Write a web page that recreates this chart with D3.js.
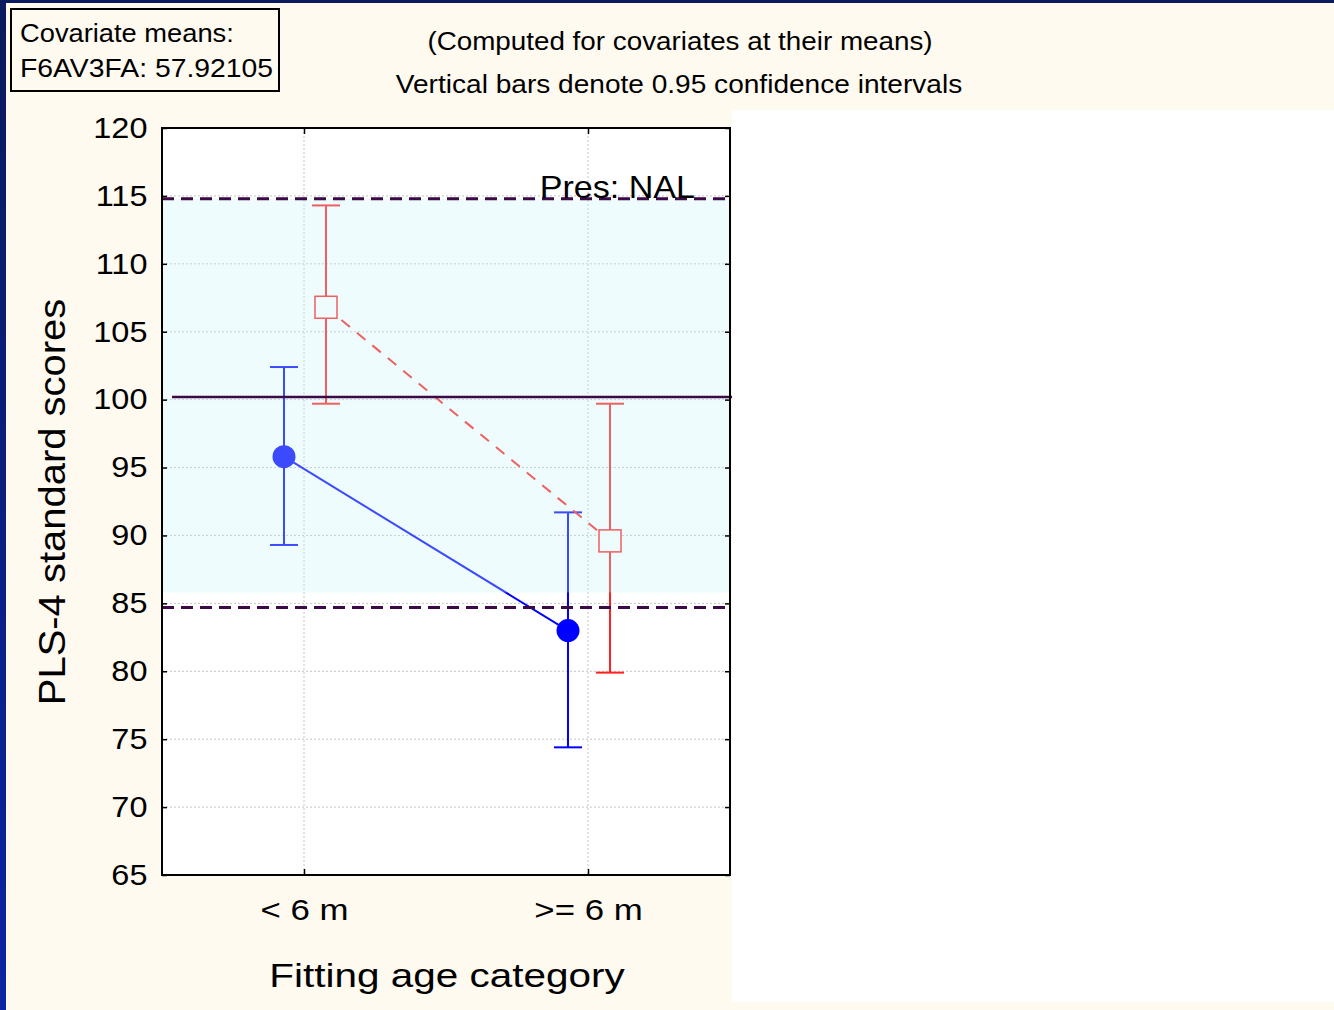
<!DOCTYPE html>
<html>
<head>
<meta charset="utf-8">
<script src="https://cdn.jsdelivr.net/npm/d3@7"></script>
<style>
  body { margin: 0; background: #fffaf0; }
  svg { display: block; font-family: "Liberation Sans", Arial, sans-serif; }
</style>
</head>
<body>
<div id="chart"></div>
<script>
// Data
var categories = ["< 6 m", ">= 6 m"];
var yTicks = [65, 70, 75, 80, 85, 90, 95, 100, 105, 110, 115, 120];

// Series 1: filled circles, solid blue line
var blueMeans = [95.8, 83.0];
var blueLower = [89.3, 74.4];
var blueUpper = [102.4, 91.7];

// Series 2: open squares, dashed red line
var redMeans = [106.8, 89.6];
var redLower = [99.7, 79.9];
var redUpper = [114.3, 99.7];

// Reference lines and normal band
var dashedRefs = [114.8, 84.7];
var solidRef = 100.2;
var band = [85.8, 114.8];

var svgWidth = 1334;
var svgHeight = 1010;

var margin = { top: 128, right: 604, bottom: 135, left: 162 };
var width = svgWidth - margin.left - margin.right;
var height = svgHeight - margin.top - margin.bottom;

var svg = d3.select("#chart")
  .append("svg")
  .attr("width", svgWidth)
  .attr("height", svgHeight);

// text that is a bit wider than the font, like the original
function wideText(parent, x, y, size, sx, anchor, str) {
  return parent.append("text")
    .attr("transform", `translate(${x},${y}) scale(${sx},1)`)
    .attr("text-anchor", anchor)
    .attr("font-size", size + "px")
    .text(str);
}

// Background frame
var defs = svg.append("defs");
var grad = defs.append("linearGradient")
  .attr("id", "navy")
  .attr("x1", 0).attr("y1", 0).attr("x2", 0).attr("y2", 1);
grad.append("stop").attr("offset", "0%").attr("stop-color", "#0a1a5c");
grad.append("stop").attr("offset", "100%").attr("stop-color", "#0b24a3");

svg.append("rect")
  .attr("width", svgWidth).attr("height", svgHeight)
  .attr("fill", "url(#navy)");
svg.append("rect")
  .attr("x", 6).attr("y", 3)
  .attr("width", svgWidth - 6).attr("height", svgHeight - 3)
  .attr("fill", "#fffaf0");
svg.append("rect")
  .attr("x", 732).attr("y", 110)
  .attr("width", svgWidth - 732).attr("height", 892)
  .attr("fill", "#ffffff");

// Covariate box
svg.append("rect")
  .attr("x", 11).attr("y", 9)
  .attr("width", 268).attr("height", 82)
  .attr("fill", "none")
  .attr("stroke", "#000")
  .attr("stroke-width", 2);
wideText(svg, 20, 42, 26, 1.05, "start", "Covariate means:");
wideText(svg, 20, 77, 26, 1.09, "start", "F6AV3FA: 57.92105");

// Header texts
wideText(svg, 680, 50, 26, 1.07, "middle", "(Computed for covariates at their means)");
wideText(svg, 679, 93, 26, 1.08, "middle", "Vertical bars denote 0.95 confidence intervals");

var chartGroup = svg.append("g")
  .attr("transform", `translate(${margin.left}, ${margin.top})`);

// Scales
var xScale = d3.scalePoint()
  .domain(categories)
  .range([0, width])
  .padding(0.5);

var yScale = d3.scaleLinear()
  .domain([65, 120])
  .range([height, 0]);

var blueOffset = -20;
var redOffset = 22;

// Plot area
chartGroup.append("rect")
  .attr("width", width).attr("height", height)
  .attr("fill", "#ffffff");

// Grid lines
chartGroup.selectAll("line.hgrid")
  .data(yTicks.slice(1, -1))
  .enter()
  .append("line")
  .classed("hgrid", true)
  .attr("x1", 0).attr("x2", width)
  .attr("y1", d => yScale(d)).attr("y2", d => yScale(d))
  .attr("stroke", "#c4c4c4")
  .attr("stroke-dasharray", "2,2");

chartGroup.selectAll("line.vgrid")
  .data(categories)
  .enter()
  .append("line")
  .classed("vgrid", true)
  .attr("x1", d => xScale(d)).attr("x2", d => xScale(d))
  .attr("y1", 0).attr("y2", height)
  .attr("stroke", "#c4c4c4")
  .attr("stroke-dasharray", "2,2");

// Line drawing helpers
var capHalf = 14;

function drawSeries(means, lower, upper, offset, color, dashed, marker) {
  var pts = categories.map((c, i) => ({ x: xScale(c) + offset, m: means[i], lo: lower[i], hi: upper[i] }));

  var line = d3.line()
    .x(d => d.x)
    .y(d => yScale(d.m));

  chartGroup.append("path")
    .datum(pts)
    .attr("d", line)
    .attr("fill", "none")
    .attr("stroke", color)
    .attr("stroke-width", 2)
    .attr("stroke-dasharray", dashed ? "11,9" : null);

  var g = chartGroup.append("g");
  g.selectAll("line.bar")
    .data(pts).enter().append("line")
    .attr("x1", d => d.x).attr("x2", d => d.x)
    .attr("y1", d => yScale(d.lo)).attr("y2", d => yScale(d.hi))
    .attr("stroke", color).attr("stroke-width", 2);
  g.selectAll("line.capHi")
    .data(pts).enter().append("line")
    .attr("x1", d => d.x - capHalf).attr("x2", d => d.x + capHalf)
    .attr("y1", d => yScale(d.hi)).attr("y2", d => yScale(d.hi))
    .attr("stroke", color).attr("stroke-width", 2);
  g.selectAll("line.capLo")
    .data(pts).enter().append("line")
    .attr("x1", d => d.x - capHalf).attr("x2", d => d.x + capHalf)
    .attr("y1", d => yScale(d.lo)).attr("y2", d => yScale(d.lo))
    .attr("stroke", color).attr("stroke-width", 2);

  if (marker === "circle") {
    g.selectAll("circle")
      .data(pts).enter().append("circle")
      .attr("cx", d => d.x).attr("cy", d => yScale(d.m))
      .attr("r", 11.5)
      .attr("fill", color);
  } else {
    g.selectAll("rect")
      .data(pts).enter().append("rect")
      .attr("x", d => d.x - 11).attr("y", d => yScale(d.m) - 11)
      .attr("width", 22).attr("height", 22)
      .attr("fill", "#ffffff")
      .attr("stroke", color)
      .attr("stroke-width", 1.5);
  }
}

drawSeries(blueMeans, blueLower, blueUpper, blueOffset, "#0000ff", false, "circle");
drawSeries(redMeans, redLower, redUpper, redOffset, "#ff2020", true, "square");

// Translucent normal-range band over the marks
chartGroup.append("rect")
  .attr("x", 0).attr("width", width)
  .attr("y", yScale(band[1]))
  .attr("height", yScale(band[0]) - yScale(band[1]))
  .attr("fill", "#c8f5f8")
  .attr("opacity", 0.3);

// Reference lines on top
chartGroup.selectAll("line.dref")
  .data(dashedRefs)
  .enter()
  .append("line")
  .classed("dref", true)
  .attr("x1", 0).attr("x2", width)
  .attr("y1", d => yScale(d)).attr("y2", d => yScale(d))
  .attr("stroke", "#3c0a46")
  .attr("stroke-width", 3)
  .attr("stroke-dasharray", "12,7");

chartGroup.append("line")
  .attr("x1", 10).attr("x2", width + 2)
  .attr("y1", yScale(solidRef)).attr("y2", yScale(solidRef))
  .attr("stroke", "#3c0a46")
  .attr("stroke-width", 2.5);

wideText(chartGroup, 533, 70, 31, 1.1, "end", "Pres: NAL");

// Axes
var leftAxis = d3.axisLeft(yScale).tickValues(yTicks).tickSize(-5).tickPadding(13);
var rightAxis = d3.axisRight(yScale).tickValues(yTicks).tickSize(-5).tickFormat("");
var bottomAxis = d3.axisBottom(xScale).tickSize(-6).tickPadding(24);
var topAxis = d3.axisTop(xScale).tickSize(-6).tickFormat("");

chartGroup.append("g")
  .style("font-size", "29px")
  .call(leftAxis)
  .selectAll(".tick text")
  .attr("transform", "scale(1.12,1)");
chartGroup.append("g")
  .attr("transform", `translate(${width}, 0)`)
  .call(rightAxis);
chartGroup.append("g")
  .attr("transform", `translate(0, ${height})`)
  .style("font-size", "29px")
  .call(bottomAxis)
  .selectAll(".tick text")
  .attr("transform", "scale(1.2,1)");
chartGroup.append("g")
  .call(topAxis);

chartGroup.selectAll(".domain").remove();
chartGroup.selectAll(".tick line").attr("stroke", "#000").attr("stroke-width", 1.5);
chartGroup.selectAll(".tick text").attr("fill", "#000");

// Frame
chartGroup.append("rect")
  .attr("width", width).attr("height", height)
  .attr("fill", "none")
  .attr("stroke", "#000")
  .attr("stroke-width", 2);

// Axis labels
var yLab = chartGroup.append("g")
  .attr("transform", `translate(${65 - margin.left}, ${502 - margin.top}) rotate(-90)`);
wideText(yLab, 0, 0, 37, 1.08, "middle", "PLS-4 standard scores");

wideText(chartGroup, 447 - margin.left, 987 - margin.top, 34, 1.19, "middle", "Fitting age category");
</script>
</body>
</html>
